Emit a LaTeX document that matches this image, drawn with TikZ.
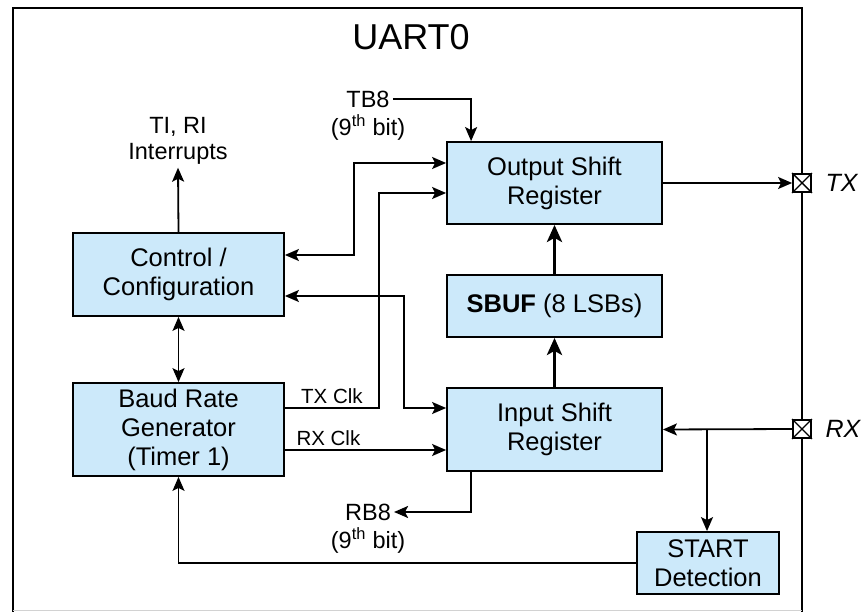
\documentclass[tikz,border=0pt]{standalone}
\usepackage{fontspec}
\setmainfont{Liberation Sans}
\usetikzlibrary{arrows.meta}
\definecolor{regblue}{RGB}{204,233,250}
\tikzset{
	>={Stealth[length=14pt,width=12pt,inset=3pt]},
	reg/.style={
		rectangle,
		draw=black, line width=1.8pt,
		fill=regblue,
		align=center,
		font=\fontsize{25.5}{29}\selectfont},
	pil/.style={
		->,
		line width=1.8pt},
	dpil/.style={
		<->,
		line width=1.8pt},
	tykpil/.style={
		-{Stealth[length=17pt,width=15pt,inset=4pt]},
		line width=3.8pt},
	lbl/.style={
		align=center,
		inner sep=3pt,
		font=\fontsize{23.5}{26}\selectfont},
	clk/.style={
		inner sep=3pt,
		font=\fontsize{20.5}{22}\selectfont},
	pin/.style={
		rectangle,
		draw=black, line width=1.8pt,
		fill=white,
		minimum size=18pt,
		inner sep=0pt},
	pinlbl/.style={
		anchor=west,
		font=\itshape\fontsize{25}{28}\selectfont}
}

\begin{document}
\begin{tikzpicture}[x=1pt,y=1pt,yscale=-1]
\useasboundingbox (0,0) rectangle (865,612);

% Frame
\draw[line width=1.8pt] (13,612) -- (13,8) -- (802,8) -- (802,612);
\draw[gray!35] (13,610) -- (802,610);
\node[font=\fontsize{36}{40}\selectfont] (title) at (411,37) {UART0};

% Blocks
\node[reg, minimum width=211pt, minimum height=83pt] (ctrl) at (178.5,274.5) {Control /\\Configuration};
\node[reg, minimum width=211pt, minimum height=93pt] (baud) at (178.5,429.5) {Baud Rate\\Generator\\(Timer 1)};
\node[reg, minimum width=215pt, minimum height=82pt] (out) at (554.5,183) {Output Shift\\Register};
\node[reg, minimum width=215pt, minimum height=62pt] (sbuf) at (554.5,306) {\textbf{SBUF} (8 LSBs)};
\node[reg, minimum width=215pt, minimum height=83pt] (in) at (554.5,429.5) {Input Shift\\Register};
\node[reg, minimum width=142pt, minimum height=62pt] (start) at (708,563) {START\\Detection};

% Pins
\node[pin] (tx) at (802,183) {};
\draw[line width=1.4pt] (tx.north west) -- (tx.south east) (tx.north east) -- (tx.south west);
\node[pinlbl] (txl) at (822,183) {TX};
\node[pin] (rx) at (802,429) {};
\draw[line width=1.4pt] (rx.north west) -- (rx.south east) (rx.north east) -- (rx.south west);
\node[pinlbl] (rxl) at (822,429) {RX};

% Text Node
\node[lbl] (irq) at (178,141) {TI, RI\\Interrupts};
% Text Node
\node[lbl] (tb8) at (368,99) {TB8};
\node[lbl] (tb8b) at (368,127) {(9\textsuperscript{th} bit)};
% Text Node
\node[lbl] (rb8) at (368,512) {RB8};
\node[lbl] (rb8b) at (368,540) {(9\textsuperscript{th} bit)};

% Connectors
\draw[pil] (ctrl.north) -- (irq.south);
\draw[dpil] (ctrl.south) -- (baud.north);
\draw[pil] (tb8.east) -| ([xshift=25pt]out.north west);
\draw[dpil] ([yshift=-19.5pt]ctrl.east) -- ++(69,0) |- ([yshift=-20pt]out.west);
\draw[pil] ([yshift=-21.5pt]baud.east) -- node[clk, above] {TX Clk} ++(94,0) |- ([yshift=10pt]out.west);
\draw[dpil] ([yshift=21.5pt]ctrl.east) -- ++(119,0) |- ([yshift=-21.5pt]in.west);
\draw[pil] ([yshift=20.5pt]baud.east) -- node[clk, above, pos=0.27] {RX Clk} ([yshift=20.5pt]in.west);
\draw[tykpil] (in.north) -- (sbuf.south);
\draw[tykpil] (sbuf.north) -- (out.south);
\draw[pil] (out.east) -- (tx.west);
\draw[pil] (rx.west) -- (in.east);
\coordinate (split) at (707,429);
\draw[pil] (split) -- (split |- start.north);
\draw[pil] ([xshift=25pt]in.south west) |- (rb8.east);
\draw[pil] (start.west) -| (baud.south);
\end{tikzpicture}
\end{document}
